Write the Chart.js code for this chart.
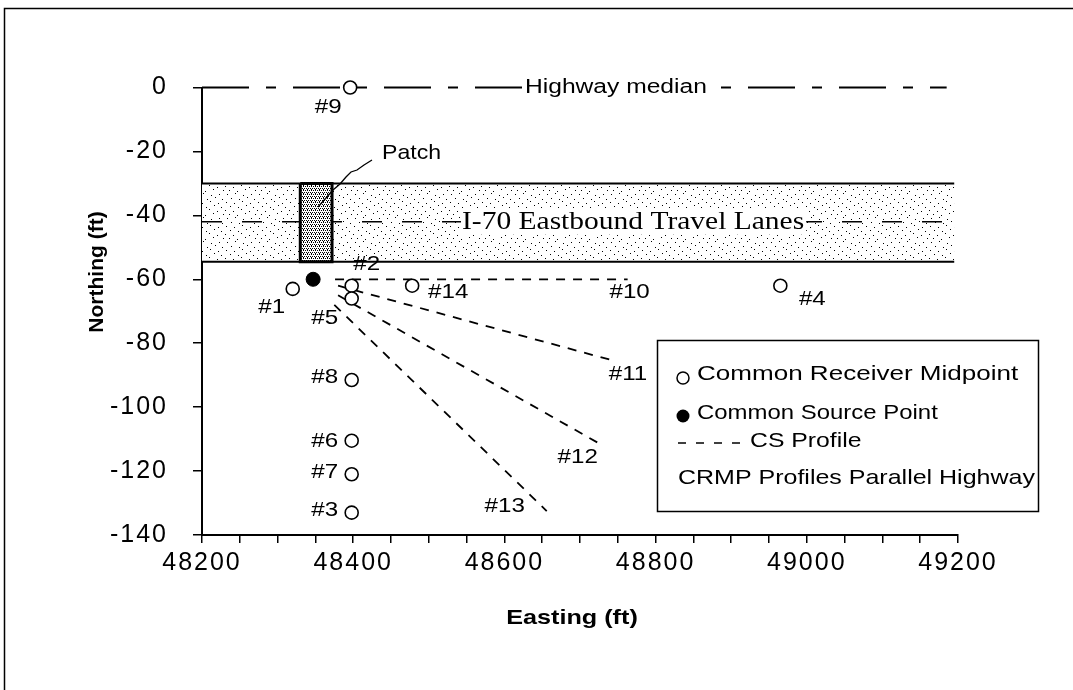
<!DOCTYPE html>
<html><head><meta charset="utf-8">
<script src="https://cdn.jsdelivr.net/npm/chart.js@4.4.0/dist/chart.umd.min.js"></script>
<style>html,body{margin:0;padding:0;background:#fff}canvas{display:block}</style>
</head><body>
<canvas id="c" width="1073" height="690"></canvas>
<script>
// ---------- data ----------
const xTickLabels = ['48200','48400','48600','48800','49000','49200'];
const yTickLabels = ['0','-20','-40','-60','-80','-100','-120','-140'];
const receiverIds      = ['#1','#2','#3','#4','#5','#6','#7','#8','#9','#14'];
const receiverEasting  = [48320,48398,48398,48965,48398,48398,48398,48398,48396,48478];
const receiverNorthing = [-63,-62,-133,-62,-66,-110.5,-121,-91.5,0,-62];
const sourceEasting  = [48347];
const sourceNorthing = [-60];
const csProfileIds    = ['#10','#11','#12','#13'];
const csStartEasting  = [48376,48380,48380,48375];
const csStartNorthing = [-60,-62,-65,-68];
const csEndEasting    = [48763,48745,48730,48656];
const csEndNorthing   = [-60,-85.5,-112,-132.5];
const medianEasting  = [48200,49185];
const medianNorthing = [0,0];
const laneEasting        = [48200,49195];
const laneTopNorthing    = [-30,-30];
const laneBottomNorthing = [-54.5,-54.5];
const laneCenterNorthing = [-42,-42];
const patchEasting = [48330,48372];
const patchNorthing = [-30,-54.5];

// ---------- styling / layout ----------
const labelOffsets = {'#1':[-21,18],'#2':[15,-21],'#3':[-27,-2],'#4':[32,14],'#5':[-27,20],'#6':[-27,0],
  '#7':[-27,-2],'#8':[-27,-3],'#9':[-22,20],'#14':[36,7],'#10':[2,13],'#11':[14,13],'#12':[-25,12],'#13':[-42,-5]};
const FONT = 'Liberation Sans';

const ctx = document.getElementById('c').getContext('2d');
function makePattern(size, dots){
  const c = document.createElement('canvas'); c.width = size[0]; c.height = size[1];
  const g = c.getContext('2d'); g.fillStyle = '#fff'; g.fillRect(0,0,size[0],size[1]);
  g.fillStyle = '#000'; dots.forEach(([x,y]) => g.fillRect(x,y,1,1));
  return ctx.createPattern(c,'repeat');
}
const lanePattern = makePattern([32,24],[[3,2],[11,1],[19,3],[27,2],[7,6],[15,7],[23,5],[30,7],[2,10],[10,11],
  [18,9],[26,11],[6,14],[14,15],[22,13],[29,15],[1,18],[9,19],[17,17],[25,19],[5,22],[13,23],[21,21],[31,22]]);
const patchPattern = makePattern([4,4],[[0,0],[2,0],[1,2],[3,2],[3,1]]);

const pts = (xs, ys) => xs.map((x,i) => ({x, y: ys[i]}));
const lineDs = (data, extra) => Object.assign({data, showLine:true, pointRadius:0, borderColor:'#000',
  backgroundColor:'transparent', fill:false, tension:0, clip:false}, extra);

const datasets = [
  {label:'Common Receiver Midpoint', data: pts(receiverEasting, receiverNorthing), showLine:false,
   pointStyle:'circle', pointRadius:6.5, pointBorderWidth:1.6, pointBackgroundColor:'#fff',
   pointBorderColor:'#000', order:0, clip:false},
  {label:'Common Source Point', data: pts(sourceEasting, sourceNorthing), showLine:false,
   pointStyle:'circle', pointRadius:7, pointBorderWidth:1, pointBackgroundColor:'#000',
   pointBorderColor:'#000', order:1, clip:false},
];
csProfileIds.forEach((id,i) => datasets.push(lineDs(
  [{x:csStartEasting[i], y:csStartNorthing[i]}, {x:csEndEasting[i], y:csEndNorthing[i]}],
  {label:'CS Profile '+id, borderDash:[9,8], borderWidth:1.8, order:3})));
datasets.push(lineDs(pts(medianEasting, medianNorthing), {label:'Highway median', borderDash:[47,17,10,17], borderWidth:2, order:4}));
datasets.push(lineDs([{x:patchEasting[0],y:patchNorthing[0]},{x:patchEasting[1],y:patchNorthing[0]},
  {x:patchEasting[1],y:patchNorthing[1]},{x:patchEasting[0],y:patchNorthing[1]},{x:patchEasting[0],y:patchNorthing[0]}],
  {label:'Patch', borderWidth:3, order:5}));
datasets.push(lineDs(pts(patchEasting, [patchNorthing[0],patchNorthing[0]]),
  {label:'Patch fill', borderWidth:0, fill:{value:patchNorthing[1]}, backgroundColor:patchPattern, order:6}));
datasets.push(lineDs(pts(laneEasting, laneCenterNorthing), {label:'Lane centre', borderDash:[20,20], borderWidth:1.5, order:7}));
datasets.push(lineDs(pts(laneEasting, laneBottomNorthing), {label:'Lane bottom', borderWidth:2, order:8}));
datasets.push(lineDs(pts(laneEasting, laneTopNorthing),
  {label:'Lane top', borderWidth:2, fill:{value:laneBottomNorthing[0]}, backgroundColor:lanePattern, order:9}));

function txt(c, s, x, y, font, align, sx, baseline){
  c.save(); c.letterSpacing = '0px'; c.font = font; c.textBaseline = baseline || 'middle'; c.textAlign = 'left';
  c.fillStyle = '#000';
  const w = c.measureText(s).width * sx;
  const x0 = align === 'center' ? x - w/2 : (align === 'right' ? x - w : x);
  c.translate(x0, y); c.scale(sx, 1); c.fillText(s, 0, 0); c.restore();
  return {x0, w};
}
function measure(c, s, font, sx){ c.save(); c.letterSpacing='0px'; c.font = font; const w = c.measureText(s).width*sx; c.restore(); return w; }

const annot = {
  id:'annot',
  beforeUpdate(chart){ chart.ctx.letterSpacing = '2px'; },
  beforeDraw(chart){
    const c = chart.ctx;
    c.save(); c.letterSpacing = '0px';
    c.fillStyle = '#fff'; c.fillRect(0,0,chart.width,chart.height);
    c.strokeStyle = '#000'; c.lineWidth = 1.5;
    c.beginPath(); c.moveTo(4.5, chart.height); c.lineTo(4.5, 8.5); c.lineTo(chart.width, 8.5); c.stroke();
    c.restore();
    c.letterSpacing = '2px';
  },
  afterDatasetsDraw(chart){
    const c = chart.ctx, xs = chart.scales.x, ys = chart.scales.y;
    const f1 = '20px ' + FONT, s1 = 1.23;
    const hy = ys.getPixelForValue(medianNorthing[0]);
    const w1 = measure(c, 'Highway median', f1, s1);
    c.save(); c.fillStyle = '#fff'; c.fillRect(524, hy-10, w1+2, 20); c.restore();
    txt(c, 'Highway median', 525, hy, f1, 'left', s1);
    const f2 = '25px Liberation Serif', s2 = 1.18;
    const ly = ys.getPixelForValue(laneCenterNorthing[0]);
    const w2 = measure(c, 'I-70 Eastbound Travel Lanes', f2, s2);
    c.save(); c.fillStyle = '#fff'; c.fillRect(461, ly-13, w2+3, 26); c.restore();
    txt(c, 'I-70 Eastbound Travel Lanes', 462, ly+1, f2, 'left', s2);
    txt(c, 'Patch', 382, 153, '21px ' + FONT, 'left', 1.1);
    c.save(); c.strokeStyle = '#000'; c.lineWidth = 1.3; c.beginPath();
    [[372,160],[364,165],[357,170],[351,172],[346,177],[340,184],[333,190],[326,198],[318,207]]
      .forEach(([px,py],i) => i ? c.lineTo(px,py) : c.moveTo(px,py));
    c.stroke(); c.restore();
    const lf = '21px ' + FONT;
    receiverIds.forEach((id,i) => {
      const o = labelOffsets[id];
      txt(c, id, xs.getPixelForValue(receiverEasting[i]) + o[0], ys.getPixelForValue(receiverNorthing[i]) + o[1], lf, 'center', 1.15);
    });
    csProfileIds.forEach((id,i) => {
      const o = labelOffsets[id];
      txt(c, id, xs.getPixelForValue(csEndEasting[i]) + o[0], ys.getPixelForValue(csEndNorthing[i]) + o[1], lf, 'center', 1.15);
    });
  },
  afterDraw(chart){
    const c = chart.ctx;
    c.save(); c.letterSpacing = '0px';
    c.fillStyle = '#fff'; c.fillRect(657.5, 340.5, 381, 171);
    c.strokeStyle = '#000'; c.lineWidth = 1.5; c.strokeRect(657.5, 340.5, 381, 171);
    c.beginPath(); c.arc(683, 378, 6, 0, Math.PI*2); c.fillStyle = '#fff'; c.fill(); c.lineWidth = 1.5; c.stroke();
    c.beginPath(); c.arc(683, 416, 6.5, 0, Math.PI*2); c.fillStyle = '#000'; c.fill();
    c.setLineDash([8,10]); c.lineWidth = 1.5; c.beginPath(); c.moveTo(678, 443); c.lineTo(747, 443); c.stroke(); c.setLineDash([]);
    c.restore();
    const lf = '21px ' + FONT;
    txt(c, 'Common Receiver Midpoint', 697, 374, lf, 'left', 1.24);
    txt(c, 'Common Source Point', 697, 413, lf, 'left', 1.14);
    txt(c, 'CS Profile', 750, 441, lf, 'left', 1.18);
    txt(c, 'CRMP Profiles Parallel Highway', 678, 478, lf, 'left', 1.19);
    txt(c, 'Easting (ft)', 572, 618, 'bold 21px ' + FONT, 'center', 1.2);
    c.save(); c.translate(97, 272); c.rotate(-Math.PI/2);
    txt(c, 'Northing (ft)', 0, 0, 'bold 21px ' + FONT, 'center', 1.0);
    c.restore();
    c.letterSpacing = '2px';
  }
};

new Chart(ctx, {
  type:'scatter',
  data:{datasets},
  plugins:[annot],
  options:{
    responsive:false, animation:false, devicePixelRatio:1,
    layout:{padding:{left:0, right:115, top:87.5, bottom:0}},
    plugins:{legend:{display:false}, tooltip:{enabled:false}, filler:{propagate:false}},
    scales:{
      x:{type:'linear', min:48200, max:49200,
        afterBuildTicks: s => { const t=[]; for (let v=48200; v<=49200; v+=50) t.push({value:v}); s.ticks = t; },
        afterFit: s => { s.height = 155; },
        ticks:{autoSkip:false, maxRotation:0, minRotation:0, color:'#000', padding:5,
          font:{family:FONT, size:25},
          callback: v => { const i = xTickLabels.indexOf(String(v)); return i >= 0 ? xTickLabels[i] : ''; }},
        grid:{display:true, drawOnChartArea:false, drawTicks:true, tickLength:8, color:'#000', lineWidth:1.5},
        border:{display:true, color:'#000', width:2}},
      y:{type:'linear', min:-140, max:0,
        afterBuildTicks: s => { const t=[]; for (let v=-140; v<=0; v+=20) t.push({value:v}); s.ticks = t; },
        afterFit: s => { s.width = 202; },
        ticks:{autoSkip:false, color:'#000', padding:25, font:{family:FONT, size:25},
          callback: v => { const i = yTickLabels.indexOf(String(v)); return i >= 0 ? yTickLabels[i] : ''; }},
        grid:{display:true, drawOnChartArea:false, drawTicks:true, tickLength:9, color:'#000', lineWidth:1.5},
        border:{display:true, color:'#000', width:2}}
    }
  }
});
</script>
</body></html>
